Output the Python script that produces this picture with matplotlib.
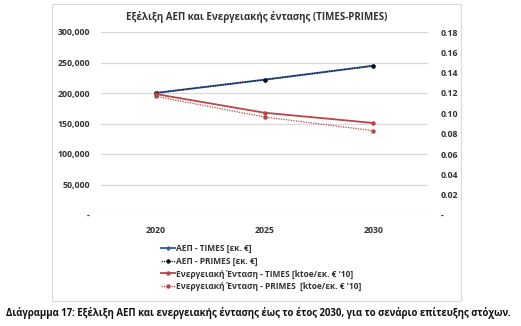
import matplotlib
matplotlib.use("Agg")
import matplotlib.pyplot as plt
from matplotlib.patches import Rectangle
from matplotlib.ticker import FuncFormatter

plt.rcParams['font.family'] = ['Open Sans', 'Noto Sans', 'DejaVu Sans']
plt.rcParams['font.weight'] = 'bold'

years = ["2020", "2025", "2030"]
gdp_times = [200000, 221800, 244700]
gdp_primes = [200000, 221800, 244700]
ei_times = [0.1190, 0.1006, 0.0905]
ei_primes = [0.1167, 0.0964, 0.0829]

labels = ["ΑΕΠ - TIMES [εκ. €]",
          "ΑΕΠ - PRIMES [εκ. €]",
          "Ενεργειακή Ένταση - TIMES [ktoe/εκ. € '10]",
          "Ενεργειακή Ένταση - PRIMES  [ktoe/εκ. € '10]"]
title = "Εξέλιξη ΑΕΠ και Ενεργειακής έντασης (TIMES-PRIMES)"
caption = "Διάγραμμα 17: Εξέλιξη ΑΕΠ και ενεργειακής έντασης έως το έτος 2030, για το σενάριο επίτευξης στόχων."

W, H = 521, 326
fig = plt.figure(figsize=(W / 100, H / 100), dpi=100)

fig.patches.append(Rectangle((52 / W, 1 - 301 / H), (461 - 52) / W, (301 - 4) / H,
                             transform=fig.transFigure, fill=False,
                             edgecolor="#D9D9D9", linewidth=0.8))

ax = fig.add_axes([101 / W, 1 - 215 / H, (428 - 101) / W, (215 - 32) / H])
ax2 = ax.twinx()

x = list(range(len(years)))
blue = "#3B64A8"
red = "#B5474B"
l1, = ax.plot(x, gdp_times, color=blue, lw=1.4, marker="D", ms=1.8, zorder=3)
l2, = ax.plot(x, gdp_primes, color="#111111", lw=0.9, ls=(0, (1, 1)), marker="o", ms=2.2, zorder=4)
l3, = ax2.plot(x, ei_times, color=red, lw=1.3, marker="o", ms=2.2)
l4, = ax2.plot(x, ei_primes, color=red, lw=0.9, ls=(0, (1, 1)), marker="o", ms=2.2)

ax.set_xlim(-0.5, 2.5)
ax.set_ylim(0, 300000)
ax2.set_ylim(0, 0.18)
ax.set_yticks(range(0, 300001, 50000))
ax2.set_yticks([i * 0.02 for i in range(10)])
ax.yaxis.set_major_formatter(FuncFormatter(lambda v, p: "-" if v == 0 else f"{int(v):,}"))
ax2.yaxis.set_major_formatter(FuncFormatter(lambda v, p: "-" if abs(v) < 1e-9 else f"{v:.2f}"))
ax.set_xticks(x)
ax.set_xticklabels(years)

ax.grid(axis="y", color="#D9D9D9", lw=0.9)
ax.set_axisbelow(True)
for a in (ax, ax2):
    for s in a.spines.values():
        s.set_visible(False)
    a.tick_params(length=0, labelsize=6.3, colors="#333333")
ax.tick_params(axis="y", pad=8)
ax2.tick_params(axis="y", pad=9)
ax.tick_params(axis="x", pad=8)
for t in ax.get_yticklabels() + ax2.get_yticklabels() + ax.get_xticklabels():
    t.set_fontweight("bold")

fig.text(257 / W, 1 - 17 / H, title, ha="center", va="center", fontsize=7.0,
         fontweight="bold", color="#333333")

leg = fig.legend([l1, l2, l3, l4], labels, loc="upper left",
                 bbox_to_anchor=(157 / W, 1 - 240 / H), frameon=False,
                 prop={"size": 6.0, "weight": "bold"}, handlelength=1.7,
                 handletextpad=0.1, labelspacing=0.42, borderpad=0, labelcolor="#333333")

fig.text(258 / W, 1 - 313 / H, caption, ha="center", va="center", fontsize=6.95,
         fontweight="bold", color="#111111")

fig.savefig("out.png", dpi=100)
